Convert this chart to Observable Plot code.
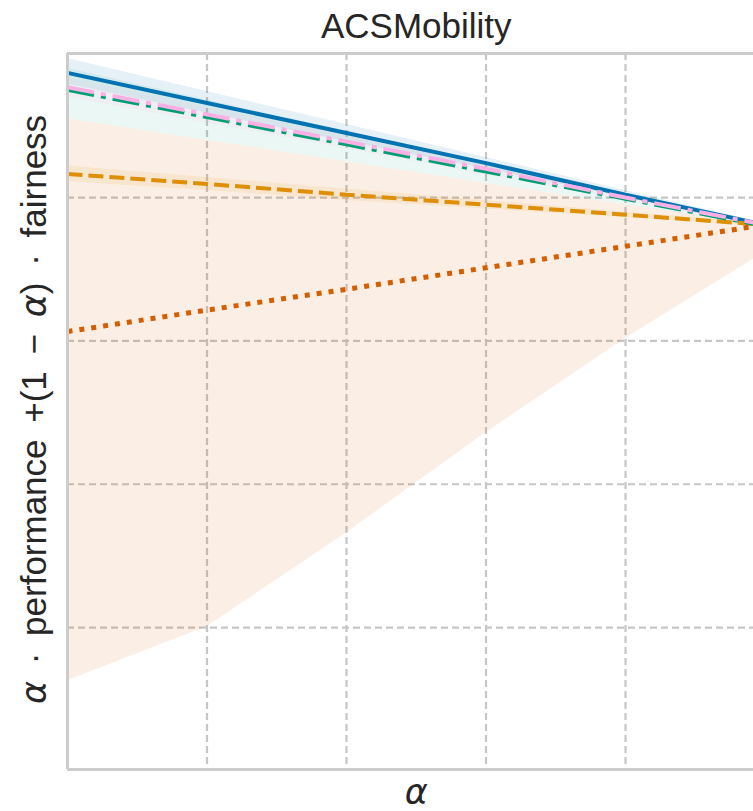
<!DOCTYPE html>
<html><head><meta charset="utf-8">
<script src="https://cdn.jsdelivr.net/npm/d3@7"></script>
<script src="https://cdn.jsdelivr.net/npm/@observablehq/plot@0.6"></script>
<style>body{margin:0;overflow:hidden;background:#fff}</style>
</head><body><div id="chart"></div>
<script>
const titleText = "ACSMobility";
const xLabel = "α";
const yLabel = "α · performance +(1 − α) · fairness";
const alphas = [0, 0.2, 0.4, 0.6, 0.8, 1.0];
const xGridTicks = [0.2, 0.4, 0.6, 0.8];
const yGridTicks = [0.5, 0.6, 0.7, 0.8];

const seriesKeys = ["s1", "s2", "s3", "s4", "s5"];
const seriesColors = ["#0173B2", "#DE8F05", "#029E73", "#D55E00", "#FBAFE4"];

// mean values per alpha
const meanS1 = [0.887, 0.866, 0.845, 0.824, 0.802, 0.781];
const meanS2 = [0.8165, 0.8095, 0.802, 0.795, 0.788, 0.781];
const meanS3 = [0.875, 0.856, 0.837, 0.818, 0.799, 0.780];
const meanS4 = [0.7065, 0.7215, 0.736, 0.751, 0.766, 0.781];
const meanS5 = [0.877, 0.858, 0.839, 0.820, 0.800, 0.781];

// band bounds
const lowS1 = [0.879, 0.859, 0.839, 0.820, 0.800, 0.780];
const highS1 = [0.897, 0.874, 0.851, 0.828, 0.805, 0.782];
const lowS2 = [0.811, 0.805, 0.798, 0.792, 0.786, 0.780];
const highS2 = [0.822, 0.814, 0.806, 0.798, 0.790, 0.782];
const lowS3 = [0.855, 0.840, 0.825, 0.810, 0.795, 0.780];
const highS3 = [0.890, 0.868, 0.846, 0.824, 0.802, 0.781];
const lowS4 = [0.463, 0.5006, 0.566, 0.636, 0.7016, 0.762];
const highS4 = [0.855, 0.840, 0.825, 0.810, 0.795, 0.781];
const lowS5 = [0.870, 0.852, 0.834, 0.816, 0.798, 0.780];
const highS5 = [0.883, 0.863, 0.843, 0.822, 0.801, 0.781];

const means = [meanS1, meanS2, meanS3, meanS4, meanS5];
const lows = [lowS1, lowS2, lowS3, lowS4, lowS5];
const highs = [highS1, highS2, highS3, highS4, highS5];

const rows = seriesKeys.map((k, i) => alphas.map((a, j) => ({series: k, alpha: a, mean: means[i][j], low: lows[i][j], high: highs[i][j]})));

const lineStyles = [
  {strokeWidth: 4, strokeDasharray: null},
  {strokeWidth: 4, strokeDasharray: "15,6"},
  {strokeWidth: 3.6, strokeDasharray: "27,7,5,7"},
  {strokeWidth: 5, strokeDasharray: "5,7"},
  {strokeWidth: 4, strokeDasharray: "27,7,5,7"}
];
const bandOpacity = [0.1, 0.1, 0.08, 0.1, 0.1];

const yDomain = [0.401, 0.9005];
const textColor = "#262626";
const gridColor = "#c6c6c6";

const marks = [
  Plot.ruleX(xGridTicks, {stroke: gridColor, strokeWidth: 2.2, strokeDasharray: "7,4"}),
  Plot.ruleY(yGridTicks, {stroke: gridColor, strokeWidth: 2.2, strokeDasharray: "7,4"}),
  ...rows.map((r, i) => Plot.areaY(r, {x: "alpha", y1: "low", y2: "high", fill: seriesColors[i], fillOpacity: bandOpacity[i], clip: true})),
  ...rows.map((r, i) => Plot.lineY(r, {x: "alpha", y: "mean", stroke: seriesColors[i], strokeWidth: lineStyles[i].strokeWidth, strokeDasharray: lineStyles[i].strokeDasharray, strokeLinecap: "butt", strokeLinejoin: "miter", clip: true})),
  Plot.ruleX([0], {stroke: "#cccccc", strokeWidth: 3}),
  Plot.ruleY(yDomain, {stroke: "#cccccc", strokeWidth: 3}),
  Plot.text([titleText], {text: d => d, x: () => 0.5, frameAnchor: "top", dy: -16, lineAnchor: "bottom", fontSize: 35, fill: textColor}),
  Plot.text([xLabel], {text: d => d, x: () => 0.5, frameAnchor: "bottom", dy: 34, lineAnchor: "bottom", fontSize: 35, fontFamily: "DejaVu Sans", fontStyle: "italic", fill: textColor}),
  Plot.text([yLabel], {text: d => d, frameAnchor: "left", dx: -22, dy: -2, rotate: -90, textAnchor: "middle", lineAnchor: "bottom", fontSize: 35, fill: textColor})
];

const chart = Plot.plot({
  width: 753,
  height: 811,
  marginLeft: 67,
  marginRight: 0,
  marginTop: 53,
  marginBottom: 42,
  style: {fontFamily: "'Liberation Sans', Arial, sans-serif", background: "#fff", maxWidth: "none"},
  x: {domain: [0, 0.9835], axis: null},
  y: {domain: yDomain, axis: null},
  marks
});
document.getElementById("chart").appendChild(chart);

// italicize alpha in y label like mathtext, widen operator spacing
chart.querySelectorAll("text").forEach(t => {
  if (t.textContent === yLabel) {
    const parts = yLabel.split("α");
    while (t.firstChild) t.removeChild(t.firstChild);
    t.style.wordSpacing = "7px";
    t.setAttribute("text-anchor", "middle");
    parts.forEach((p, i) => {
      if (i > 0) {
        const ts = document.createElementNS("http://www.w3.org/2000/svg", "tspan");
        ts.textContent = "α";
        ts.setAttribute("font-family", "DejaVu Sans");
        ts.setAttribute("font-style", "italic");
        t.appendChild(ts);
      }
      if (p) {
        const ts = document.createElementNS("http://www.w3.org/2000/svg", "tspan");
        ts.textContent = p;
        t.appendChild(ts);
      }
    });
  }
});
</script>
</body></html>
